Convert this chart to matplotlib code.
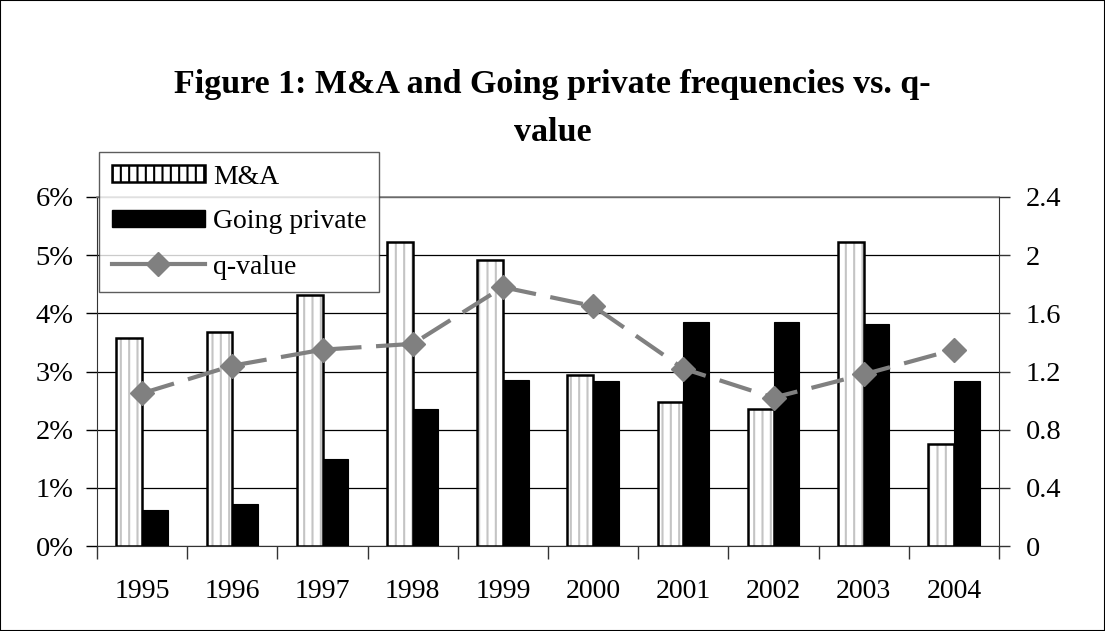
import matplotlib
matplotlib.use("Agg")
import matplotlib.pyplot as plt
import numpy as np
from matplotlib.patches import Rectangle, Patch
from matplotlib.lines import Line2D

years = ["1995", "1996", "1997", "1998", "1999", "2000", "2001", "2002", "2003", "2004"]
ma_pct = [3.57, 3.68, 4.31, 5.23, 4.91, 2.94, 2.47, 2.35, 5.23, 1.75]
gp_pct = [0.62, 0.73, 1.49, 2.35, 2.86, 2.83, 3.85, 3.85, 3.81, 2.83]
q_value = [1.05, 1.24, 1.35, 1.39, 1.78, 1.65, 1.22, 1.02, 1.18, 1.35]
left_ticks = [0, 1, 2, 3, 4, 5, 6]
left_labels = ["0%", "1%", "2%", "3%", "4%", "5%", "6%"]
right_ticks = [0, 0.4, 0.8, 1.2, 1.6, 2.0, 2.4]
right_labels = ["0", "0.4", "0.8", "1.2", "1.6", "2", "2.4"]

plt.rcParams['font.family'] = ['Liberation Serif', 'DejaVu Serif']
plt.rcParams['hatch.linewidth'] = 1.5

W, H = 1105, 631
fig = plt.figure(figsize=(W / 100, H / 100), dpi=100)
ax = fig.add_axes([97 / W, 1 - 546 / H, (999 - 97) / W, (546 - 197) / H])

x = np.arange(len(years))
bw = 0.285
# M&A bars: grey vertical hatching + black outline
ax.bar(x - bw / 2, ma_pct, bw, color="white", edgecolor="#c4c4c4", hatch="||", linewidth=0, zorder=3)
ax.bar(x - bw / 2, ma_pct, bw, fill=False, edgecolor="black", linewidth=1.8, zorder=4)
ax.bar(x + bw / 2, gp_pct, bw, color="black", edgecolor="black", linewidth=0.8, zorder=4)

ax.set_xlim(-0.5, len(years) - 0.5)
ax.set_ylim(0, 6)
ax.set_yticks(left_ticks)
ax.set_yticklabels(left_labels)
ax.yaxis.grid(True, color="black", linewidth=0.9, zorder=0)
ax.set_axisbelow(True)

ax.set_xticks(np.arange(-0.5, len(years) + 0.5, 1.0))
ax.set_xticklabels([])
ax.set_xticks(x, minor=True)
ax.set_xticklabels(years, minor=True)
ax.tick_params(axis="x", which="minor", length=0, pad=24, labelsize=20)
ax.tick_params(axis="x", which="major", length=9, width=1, direction="out", color="#333333")
ax.tick_params(axis="y", length=8, width=1, direction="out", labelsize=20.5, pad=9)

ax.spines["top"].set_color("#808080")
ax.spines["top"].set_linewidth(1.2)
ax.spines["right"].set_visible(False)
ax.spines["left"].set_color("#333333")
ax.spines["bottom"].set_color("#333333")

ax2 = ax.twinx()
ax2.plot(x, q_value, color="#808080", linewidth=3.0, linestyle=(0, (8, 3.5)),
         marker="D", markersize=12, markerfacecolor="#808080", markeredgecolor="#808080", zorder=5)
ax2.set_ylim(0, 2.4)
ax2.set_yticks(right_ticks)
ax2.set_yticklabels(right_labels)
ax2.tick_params(axis="y", length=8, width=1, direction="out", labelsize=20.5, pad=11, color="#333333")
ax2.spines["right"].set_color("#333333")
for s in ["top", "left", "bottom"]:
    ax2.spines[s].set_visible(False)

fig.text(0.5, 1 - 108.5 / H, "Figure 1: M&A and Going private frequencies vs. q-\nvalue",
         ha="center", va="center", fontsize=24.5, fontweight="bold", linespacing=1.7)

handles = [
    Patch(facecolor="white", edgecolor="black", hatch="||", linewidth=1.8, label="M&A"),
    Patch(facecolor="black", edgecolor="black", label="Going private"),
    Line2D([0], [0], color="#808080", linewidth=3.0, marker="D", markersize=12,
           markerfacecolor="#808080", markeredgecolor="#808080", label="q-value"),
]
leg = fig.legend(handles=handles, loc="upper left", bbox_to_anchor=(99 / W, 1 - 152 / H),
                 fontsize=20, frameon=True, fancybox=False, edgecolor="#333333",
                 handlelength=3.35, handleheight=0.58, labelspacing=0.72, borderpad=0.45,
                 handletextpad=0.3, borderaxespad=0)
leg.get_frame().set_linewidth(1.0)
leg.set_zorder(10)

fig.patches.append(Rectangle((0, 0), 1, 1, transform=fig.transFigure, fill=False,
                             edgecolor="black", linewidth=1.5))

fig.savefig("out.png", dpi=100)
